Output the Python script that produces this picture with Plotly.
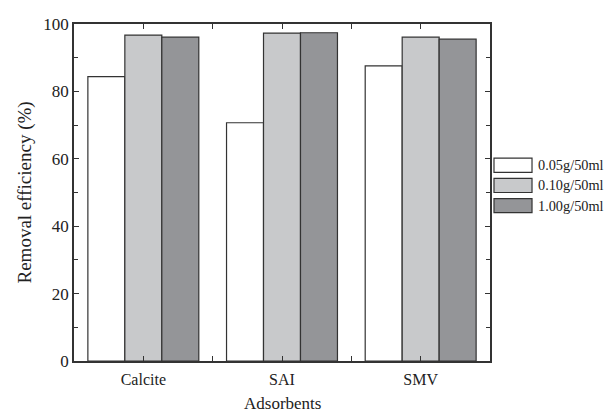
import plotly.graph_objects as go

categories = ["Calcite", "SAI", "SMV"]
series_names = ["0.05g/50ml", "0.10g/50ml", "1.00g/50ml"]
values_005 = [84.4, 70.7, 87.6]
values_010 = [96.7, 97.3, 96.1]
values_100 = [96.1, 97.4, 95.5]
y_ticks = [0, 20, 40, 60, 80, 100]

colors = ["#ffffff", "#c8c9cb", "#949598"]
series = [values_005, values_010, values_100]
xpos = list(range(len(categories)))

FONT = "Liberation Serif, Times New Roman, serif"
TXT = "#222222"
fig = go.Figure()
for name, vals, c in zip(series_names, series, colors):
    fig.add_trace(go.Bar(x=xpos, y=vals, name=name,
                         marker=dict(color=c, line=dict(color="#333333", width=1.2)),
                         showlegend=False))

# custom legend (wide swatches)
for i, (name, c) in enumerate(zip(series_names, colors)):
    yc = 0.581 - i * 0.06
    fig.add_shape(type="rect", xref="paper", yref="paper", x0=1.0096, x1=1.101,
                  y0=yc - 0.021, y1=yc + 0.021,
                  fillcolor=c, line=dict(color="#333333", width=1.2))
    fig.add_annotation(xref="paper", yref="paper", x=1.112, y=yc, text=name, showarrow=False,
                       xanchor="left", yanchor="middle", borderpad=0,
                       font=dict(family=FONT, size=14.3, color=TXT))

axis_common = dict(showline=True, linecolor="#333333", linewidth=1.5, mirror="allticks",
                   ticks="inside", tickcolor="#333333", ticklen=5, showgrid=False, zeroline=False,
                   automargin=False)
fig.update_xaxes(**axis_common, range=[-0.5, 2.5], tickvals=xpos, ticktext=categories,
                 ticklabelstandoff=3,
                 minor=dict(tickvals=[0.5, 1.5], ticks="inside", ticklen=5, tickcolor="#333333"),
                 tickfont=dict(family=FONT, size=16, color=TXT))
fig.update_yaxes(**axis_common, range=[0, 100], tickvals=y_ticks,
                 minor=dict(dtick=10, ticks="inside", ticklen=4, tickcolor="#333333"),
                 tickfont=dict(family=FONT, size=17, color=TXT))
# axis titles
fig.add_annotation(xref="paper", yref="paper", x=0.5, y=-42/337, text="Adsorbents", showarrow=False,
                   xanchor="center", yanchor="middle", borderpad=0,
                   font=dict(family=FONT, size=17, color=TXT))
fig.add_annotation(xref="paper", yref="paper", x=-50/416, y=0.5, text="Removal efficiency (%)",
                   showarrow=False, textangle=-90, xanchor="center", yanchor="middle",
                   font=dict(family=FONT, size=19, color=TXT))
fig.update_layout(width=606, height=404, margin=dict(l=66, r=124, t=16, b=51),
                  barmode="group", bargap=0.2, bargroupgap=0,
                  plot_bgcolor="white", paper_bgcolor="white", font=dict(family=FONT))
fig.write_html("out.html")
